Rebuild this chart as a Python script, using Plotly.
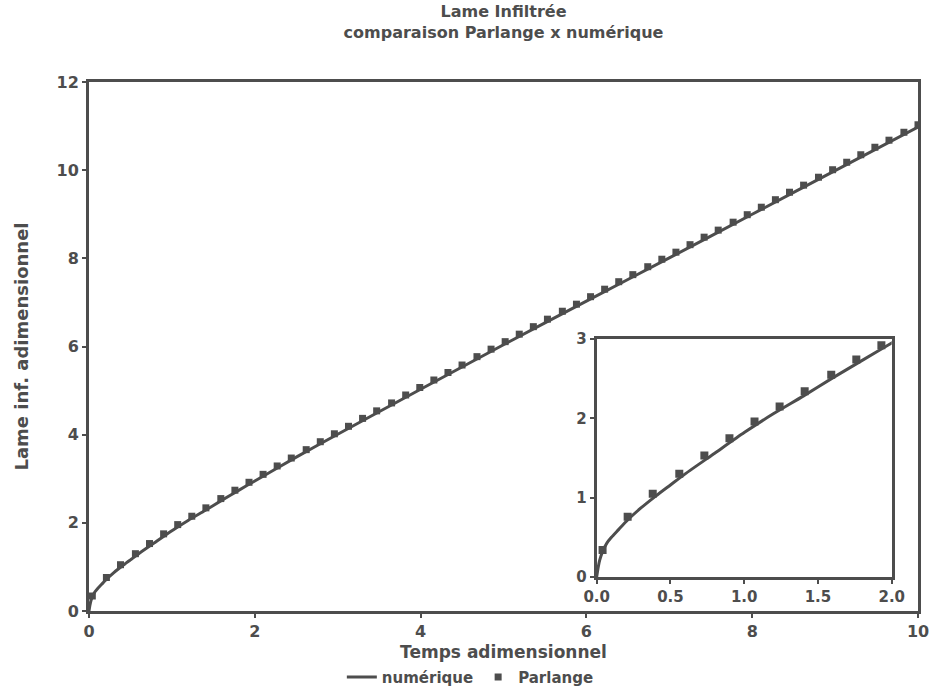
import plotly.graph_objects as go

# Numerical solution (solid line): dimensionless time vs infiltrated depth
t_num = [0.0, 0.01, 0.02, 0.04, 0.07, 0.1, 0.15, 0.2, 0.3, 0.4, 0.5, 0.6, 0.8,
         1.0, 1.2, 1.4, 1.6, 1.8, 2.0, 2.5, 3.0, 4.0, 5.0, 6.0, 7.0, 8.0, 9.0, 10.0]
i_num = [0.0, 0.12, 0.21, 0.32, 0.43, 0.50, 0.60, 0.70, 0.87, 1.02, 1.16, 1.30, 1.56,
         1.82, 2.06, 2.28, 2.51, 2.73, 2.95, 3.49, 4.01, 5.03, 6.04, 7.03, 8.01, 9.00, 9.99, 10.98]

# Parlange analytical solution (markers)
t_par = [0.04, 0.21, 0.38, 0.56, 0.73, 0.90, 1.07, 1.24, 1.41, 1.59, 1.76, 1.93,
         2.10, 2.27, 2.44, 2.62, 2.79, 2.96, 3.13, 3.30, 3.47, 3.65, 3.82, 3.99,
         4.16, 4.33, 4.50, 4.68, 4.85, 5.02, 5.19, 5.36, 5.53, 5.71, 5.88, 6.05,
         6.22, 6.39, 6.56, 6.74, 6.91, 7.08, 7.25, 7.42, 7.59, 7.77, 7.94, 8.11,
         8.28, 8.45, 8.62, 8.80, 8.97, 9.14, 9.31, 9.48, 9.65, 9.83, 10.00]
i_par = [0.34, 0.76, 1.05, 1.30, 1.53, 1.75, 1.96, 2.15, 2.34, 2.55, 2.74, 2.92,
         3.10, 3.29, 3.47, 3.66, 3.84, 4.02, 4.19, 4.37, 4.54, 4.72, 4.90, 5.07,
         5.24, 5.41, 5.58, 5.77, 5.94, 6.11, 6.28, 6.45, 6.62, 6.80, 6.96, 7.13,
         7.30, 7.47, 7.63, 7.81, 7.98, 8.14, 8.31, 8.48, 8.64, 8.82, 8.99, 9.16,
         9.33, 9.50, 9.66, 9.84, 10.01, 10.18, 10.35, 10.52, 10.68, 10.86, 11.03]

main_xticks = [0, 2, 4, 6, 8, 10]
main_yticks = [0, 2, 4, 6, 8, 10, 12]
inset_xticks = [0.0, 0.5, 1.0, 1.5, 2.0]
inset_yticks = [0, 1, 2, 3]

INK = "#4d4d4d"
FONT = "DejaVu Sans"

fig = go.Figure()

# main panel
fig.add_trace(go.Scatter(x=t_num, y=i_num, mode="lines", name="numérique",
                         line=dict(color=INK, width=3, shape="spline", smoothing=0.6),
                         xaxis="x", yaxis="y"))
fig.add_trace(go.Scatter(x=t_par, y=i_par, mode="markers", name="Parlange",
                         marker=dict(symbol="square", size=7, color=INK),
                         xaxis="x", yaxis="y"))

# inset zoom on early times
fig.add_trace(go.Scatter(x=t_num, y=i_num, mode="lines", showlegend=False,
                         line=dict(color=INK, width=3, shape="spline", smoothing=0.6),
                         xaxis="x2", yaxis="y2"))
fig.add_trace(go.Scatter(x=t_par, y=i_par, mode="markers", showlegend=False,
                         marker=dict(symbol="square", size=8, color=INK),
                         xaxis="x2", yaxis="y2"))

axis_common = dict(showgrid=False, zeroline=False, showline=True, linecolor=INK,
                   linewidth=3, mirror=True, ticks="outside", tickcolor=INK,
                   tickwidth=2, ticklen=4, automargin=False)

fig.update_layout(
    width=930, height=691,
    margin=dict(l=89, r=12, t=82, b=80, autoexpand=False),
    paper_bgcolor="white", plot_bgcolor="white",
    font=dict(family=FONT, color=INK, size=15, weight="bold"),
    title=dict(text="Lame Infiltrée<br>comparaison Parlange x numérique",
               x=0.5, xref="paper", xanchor="center",
               y=1 - 17 / 691, yref="container", yanchor="middle",
               font=dict(family=FONT, size=16, color=INK, weight="bold")),
    xaxis=dict(range=[0, 10], tickvals=main_xticks, domain=[0, 1],
               tickfont=dict(size=16),
               title=dict(text="Temps adimensionnel", standoff=6,
                          font=dict(size=17)),
               **axis_common),
    yaxis=dict(range=[0, 12], tickvals=main_yticks, domain=[0, 1],
               tickfont=dict(size=16),
               title=dict(text="Lame inf. adimensionnel", standoff=24,
                          font=dict(size=18)),
               **axis_common),
    xaxis2=dict(range=[0, 2], tickvals=inset_xticks, tickformat=".1f",
                domain=[0.6124, 0.9683], anchor="y2",
                tickfont=dict(size=15), **axis_common),
    yaxis2=dict(range=[0, 3], tickvals=inset_yticks, domain=[0.0643, 0.5142],
                anchor="x2", tickfont=dict(size=15), **axis_common),
    legend=dict(orientation="h", x=0.46, xanchor="center", y=-0.125,
                yanchor="middle", font=dict(size=15), itemwidth=30,
                bgcolor="rgba(0,0,0,0)"),
    showlegend=True,
)

fig.write_html("out.html")
